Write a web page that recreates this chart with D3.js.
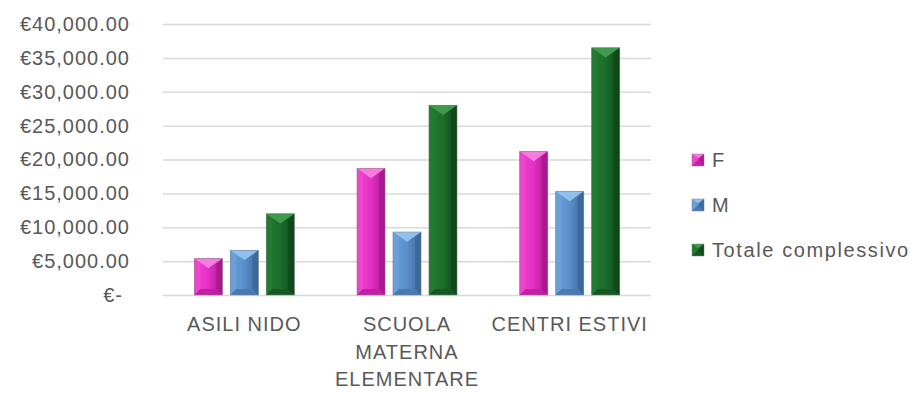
<!DOCTYPE html>
<html lang="it">
<head>
<meta charset="utf-8">
<title>Spesa per servizio</title>
<script src="https://cdn.jsdelivr.net/npm/d3@7"></script>
<style>
  body { margin: 0; background: #fff; }
  svg text {
    font-family: "Liberation Sans", Arial, sans-serif;
    font-size: 20px;
    fill: #595959;
    letter-spacing: 1px;
  }
  svg text.leg { letter-spacing: 1.6px; }
  .grid line { stroke: #d9d9d9; stroke-width: 1.5px; }
  .grid .domain { display: none; }
</style>
</head>
<body>
<svg width="914" height="393"></svg>
<script>
// data
var categories = ["ASILI NIDO", "SCUOLA MATERNA ELEMENTARE", "CENTRI ESTIVI"];
var categoryLines = [["ASILI NIDO"], ["SCUOLA", "MATERNA", "ELEMENTARE"], ["CENTRI ESTIVI"]];
var seriesNames = ["F", "M", "Totale complessivo"];
var valuesF = [5400, 18700, 21200];
var valuesM = [6600, 9300, 15300];
var valuesTot = [12000, 28000, 36500];
var yTicks = [0, 5000, 10000, 15000, 20000, 25000, 30000, 35000, 40000];

var seriesValues = [valuesF, valuesM, valuesTot];
var palette = [
  { base: "#e62fc4", light: "#f57ddf", side: "#ee45cf", dark: "#a8188f", bottom: "#c21fa6" },
  { base: "#5a8fcb", light: "#8fc0ee", side: "#6a9fd9", dark: "#3a6899", bottom: "#4a7bb0" },
  { base: "#1c6e2b", light: "#3f9a4c", side: "#237a32", dark: "#0f4619", bottom: "#155823" }
];

var svg = d3.select("svg");

var x0 = d3.scaleBand().domain(categories).range([163, 651])
    .paddingInner(0.385).paddingOuter(0.1925);
var x1 = d3.scaleBand().domain(seriesNames).range([0, x0.bandwidth()])
    .paddingInner(0.22);
var y = d3.scaleLinear().domain([0, 40000]).range([295, 24]);

var money = d3.format(",.2f");

// gradients for bar faces
var defs = svg.append("defs");
palette.forEach(function(p, i) {
  var g = defs.append("linearGradient").attr("id", "face" + i)
      .attr("x1", 0).attr("x2", 1).attr("y1", 0).attr("y2", 0);
  g.append("stop").attr("offset", "0%").attr("stop-color", p.side);
  g.append("stop").attr("offset", "50%").attr("stop-color", p.base);
  g.append("stop").attr("offset", "100%").attr("stop-color", p.dark);
});

// gridlines
svg.append("g")
    .attr("class", "grid")
    .attr("transform", "translate(163,0)")
    .call(d3.axisLeft(y).tickValues(yTicks).tickSize(-488).tickFormat(""));

// y axis labels
var yAxis = svg.append("g")
    .attr("transform", "translate(163,0)")
    .call(d3.axisLeft(y).tickValues(yTicks).tickSize(0).tickPadding(33)
      .tickFormat(function(d) { return d === 0 ? "€-" : "€" + money(d); }));
yAxis.select(".domain").remove();
yAxis.selectAll("text")
    .attr("dx", function(d) { return d === 0 ? -7 : 0; });
yAxis.attr("font-size", null).attr("font-family", null);

// x axis labels
var xAxis = svg.append("g")
    .attr("transform", "translate(0,295)")
    .call(d3.axisBottom(x0).tickSize(0).tickPadding(0));
xAxis.select(".domain").remove();
xAxis.attr("font-size", null).attr("font-family", null);
xAxis.selectAll("text").each(function(d, i) {
  var t = d3.select(this).text(null).attr("y", 0).attr("dy", null);
  categoryLines[i].forEach(function(line, k) {
    t.append("tspan").attr("x", 0).attr("y", 36 + k * 27.7).text(line);
  });
});

// bevelled bar drawing
function bevelBar(sel, w, h, p, i) {
  var b = Math.min(6, w / 2, h / 2);
  sel.append("rect").attr("width", w).attr("height", h)
      .attr("fill", "url(#face" + i + ")");
  sel.append("polygon").attr("fill", p.dark).attr("fill-opacity", 0.8)
      .attr("points", [[w, 0], [w, h], [w - b, h - b], [w - b, b]].join(" "));
  sel.append("polygon").attr("fill", p.side)
      .attr("points", [[0, 0], [b, b], [b, h - b], [0, h]].join(" "));
  sel.append("polygon").attr("fill", p.bottom)
      .attr("points", [[0, h], [b, h - b], [w - b, h - b], [w, h]].join(" "));
  sel.append("polygon").attr("fill", p.light)
      .attr("points", [[0, 0], [w, 0], [w / 2, Math.min(w * 0.35, h / 2)]].join(" "));
  sel.append("rect").attr("width", w).attr("height", h)
      .attr("fill", "none").attr("stroke", "#7f7f7f").attr("stroke-opacity", 0.6)
      .attr("stroke-width", 0.8);
}

categories.forEach(function(cat, c) {
  seriesNames.forEach(function(s, i) {
    var v = seriesValues[i][c];
    var w = x1.bandwidth();
    var h = y(0) - y(v);
    var g = svg.append("g")
        .attr("transform", "translate(" + (x0(cat) + x1(s)) + "," + y(v) + ")");
    bevelBar(g, w, h, palette[i], i);
  });
});

// legend
var legend = svg.append("g");
seriesNames.forEach(function(s, i) {
  var cy = 160 + i * 45;
  var g = legend.append("g").attr("transform", "translate(692," + (cy - 6) + ")");
  bevelBar(g, 12, 12, palette[i], i);
  legend.append("text").attr("class", "leg")
      .attr("x", 712).attr("y", cy).attr("dy", "0.36em").text(s);
});
</script>
</body>
</html>
